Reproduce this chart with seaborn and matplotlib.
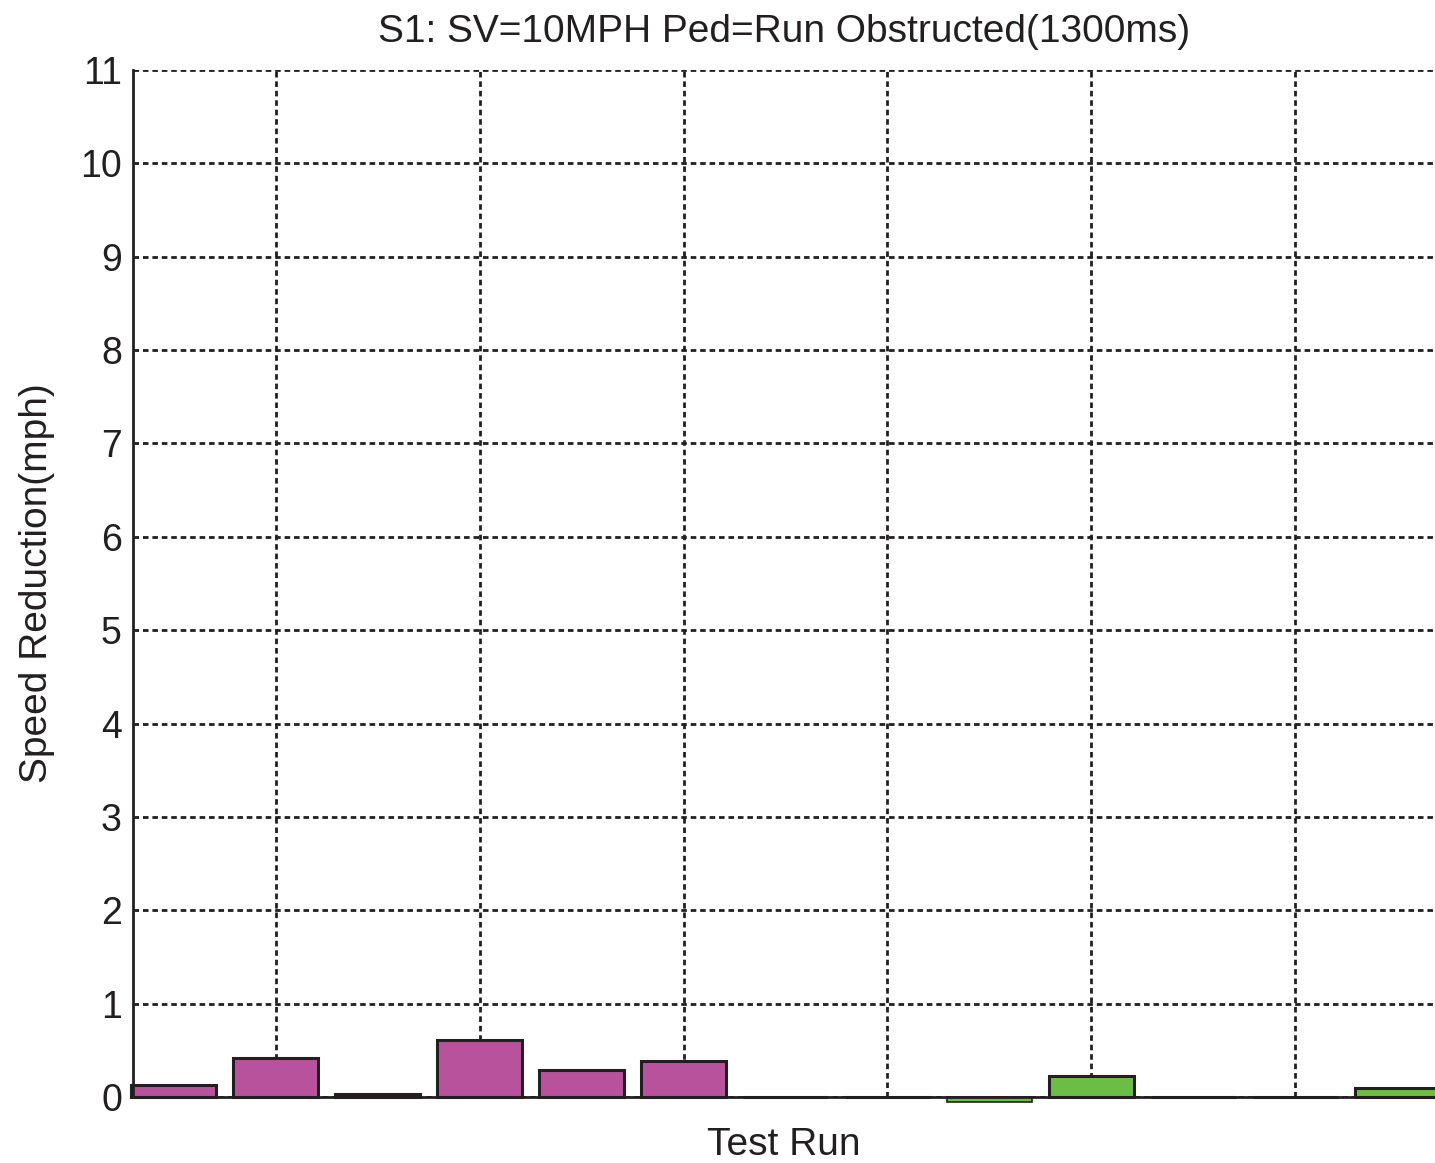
import matplotlib
matplotlib.use("Agg")
import matplotlib.pyplot as plt
import pandas as pd
import seaborn as sb

# speed reduction per test run
runs = list(range(1, 14))
speed_reduction = [0.13, 0.42, 0.03, 0.61, 0.29, 0.385, 0.0, 0.0,
                   -0.05, 0.22, 0.0, 0.0, 0.10]
groups = ["A"] * 8 + ["B"] * 5
group_colors = {"A": "#B8529D", "B": "#6BBE45"}

df = pd.DataFrame({"run": runs, "value": speed_reduction, "group": groups})

sb.set_style("white")
plt.rcParams["font.family"] = ["Liberation Sans", "DejaVu Sans"]

fig = plt.figure(figsize=(14.35, 11.63), dpi=100)
# axes runs past the right edge of the picture, as in the original crop
ax = fig.add_axes([0.0927, 0.0568, 0.9073, 0.8830])

sb.barplot(data=df, x="run", y="value", hue="group", palette=group_colors,
           dodge=False, width=0.83, edgecolor="#231F20", linewidth=2.2,
           saturation=1, legend=False, ax=ax)

# the slightly negative bar pokes below the axis in the original
for bar in ax.patches:
    bar.set_clip_on(False)
    if bar.get_height() < 0:
        bar.set_linewidth(1.2)

ax.set_xlim(-0.4, 12.37)
ax.set_ylim(0, 11)
ax.set_yticks(range(0, 12))
ax.set_xticks([1, 3, 5, 7, 9, 11])
ax.set_xticklabels([])

ax.grid(True, color="#231F20", linestyle=(0, (2, 1.4)), linewidth=2.0)
ax.set_axisbelow(True)

for side in ["top", "right"]:
    ax.spines[side].set_visible(False)
for side in ["left", "bottom"]:
    ax.spines[side].set_color("#231F20")
    ax.spines[side].set_linewidth(2.0)

ax.tick_params(axis="both", direction="in", length=7, width=2,
               color="#231F20", labelsize=27, labelcolor="#231F20", pad=8)
ax.tick_params(axis="x", pad=4)

ax.set_title("S1: SV=10MPH Ped=Run Obstructed(1300ms)", fontsize=28,
             color="#231F20", pad=20)
ax.set_xlabel("Test Run", fontsize=28, color="#231F20", labelpad=18)
ax.set_ylabel("Speed Reduction(mph)", fontsize=28, color="#231F20", labelpad=18)

fig.savefig("out.png", dpi=100)
